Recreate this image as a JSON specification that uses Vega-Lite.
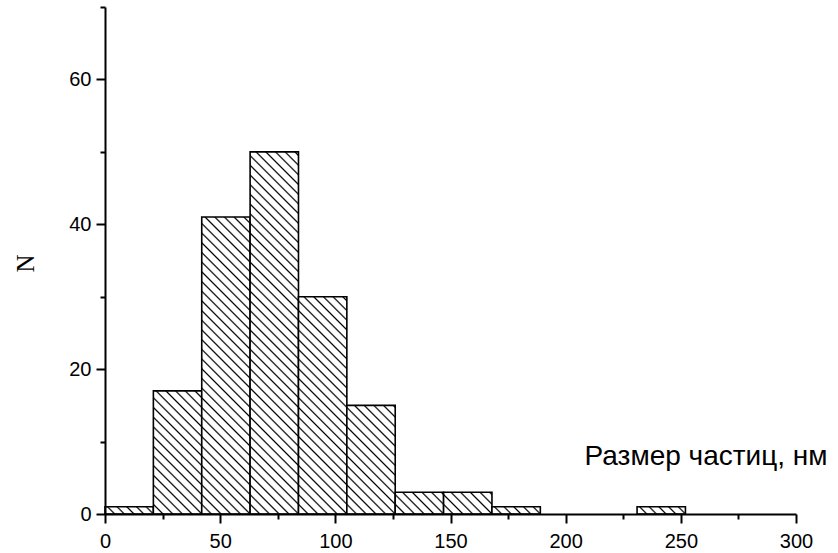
{
  "$schema": "https://vega.github.io/schema/vega-lite/v6.json",
  "width": 691,
  "height": 507,
  "autosize": {"type": "none"},
  "padding": {"left": 105, "top": 7, "right": 42, "bottom": 39},
  "background": "white",
  "config": {"view": {"stroke": null}, "font": "Liberation Sans"},
  "params": [
    {"name": "hatch", "value": [
      {"offset":0.0165,"color":"#fff"},{"offset":0.02,"color":"#000"},{"offset":0.0235,"color":"#fff"},
      {"offset":0.0365,"color":"#fff"},{"offset":0.04,"color":"#000"},{"offset":0.0435,"color":"#fff"},
      {"offset":0.0565,"color":"#fff"},{"offset":0.06,"color":"#000"},{"offset":0.0635,"color":"#fff"},
      {"offset":0.0765,"color":"#fff"},{"offset":0.08,"color":"#000"},{"offset":0.0835,"color":"#fff"},
      {"offset":0.0965,"color":"#fff"},{"offset":0.1,"color":"#000"},{"offset":0.1035,"color":"#fff"},
      {"offset":0.1165,"color":"#fff"},{"offset":0.12,"color":"#000"},{"offset":0.1235,"color":"#fff"},
      {"offset":0.1365,"color":"#fff"},{"offset":0.14,"color":"#000"},{"offset":0.1435,"color":"#fff"},
      {"offset":0.1565,"color":"#fff"},{"offset":0.16,"color":"#000"},{"offset":0.1635,"color":"#fff"},
      {"offset":0.1765,"color":"#fff"},{"offset":0.18,"color":"#000"},{"offset":0.1835,"color":"#fff"},
      {"offset":0.1965,"color":"#fff"},{"offset":0.2,"color":"#000"},{"offset":0.2035,"color":"#fff"},
      {"offset":0.2165,"color":"#fff"},{"offset":0.22,"color":"#000"},{"offset":0.2235,"color":"#fff"},
      {"offset":0.2365,"color":"#fff"},{"offset":0.24,"color":"#000"},{"offset":0.2435,"color":"#fff"},
      {"offset":0.2565,"color":"#fff"},{"offset":0.26,"color":"#000"},{"offset":0.2635,"color":"#fff"},
      {"offset":0.2765,"color":"#fff"},{"offset":0.28,"color":"#000"},{"offset":0.2835,"color":"#fff"},
      {"offset":0.2965,"color":"#fff"},{"offset":0.3,"color":"#000"},{"offset":0.3035,"color":"#fff"},
      {"offset":0.3165,"color":"#fff"},{"offset":0.32,"color":"#000"},{"offset":0.3235,"color":"#fff"},
      {"offset":0.3365,"color":"#fff"},{"offset":0.34,"color":"#000"},{"offset":0.3435,"color":"#fff"},
      {"offset":0.3565,"color":"#fff"},{"offset":0.36,"color":"#000"},{"offset":0.3635,"color":"#fff"},
      {"offset":0.3765,"color":"#fff"},{"offset":0.38,"color":"#000"},{"offset":0.3835,"color":"#fff"},
      {"offset":0.3965,"color":"#fff"},{"offset":0.4,"color":"#000"},{"offset":0.4035,"color":"#fff"},
      {"offset":0.4165,"color":"#fff"},{"offset":0.42,"color":"#000"},{"offset":0.4235,"color":"#fff"},
      {"offset":0.4365,"color":"#fff"},{"offset":0.44,"color":"#000"},{"offset":0.4435,"color":"#fff"},
      {"offset":0.4565,"color":"#fff"},{"offset":0.46,"color":"#000"},{"offset":0.4635,"color":"#fff"},
      {"offset":0.4765,"color":"#fff"},{"offset":0.48,"color":"#000"},{"offset":0.4835,"color":"#fff"},
      {"offset":0.4965,"color":"#fff"},{"offset":0.5,"color":"#000"},{"offset":0.5035,"color":"#fff"},
      {"offset":0.5165,"color":"#fff"},{"offset":0.52,"color":"#000"},{"offset":0.5235,"color":"#fff"},
      {"offset":0.5365,"color":"#fff"},{"offset":0.54,"color":"#000"},{"offset":0.5435,"color":"#fff"},
      {"offset":0.5565,"color":"#fff"},{"offset":0.56,"color":"#000"},{"offset":0.5635,"color":"#fff"},
      {"offset":0.5765,"color":"#fff"},{"offset":0.58,"color":"#000"},{"offset":0.5835,"color":"#fff"},
      {"offset":0.5965,"color":"#fff"},{"offset":0.6,"color":"#000"},{"offset":0.6035,"color":"#fff"},
      {"offset":0.6165,"color":"#fff"},{"offset":0.62,"color":"#000"},{"offset":0.6235,"color":"#fff"},
      {"offset":0.6365,"color":"#fff"},{"offset":0.64,"color":"#000"},{"offset":0.6435,"color":"#fff"},
      {"offset":0.6565,"color":"#fff"},{"offset":0.66,"color":"#000"},{"offset":0.6635,"color":"#fff"},
      {"offset":0.6765,"color":"#fff"},{"offset":0.68,"color":"#000"},{"offset":0.6835,"color":"#fff"},
      {"offset":0.6965,"color":"#fff"},{"offset":0.7,"color":"#000"},{"offset":0.7035,"color":"#fff"},
      {"offset":0.7165,"color":"#fff"},{"offset":0.72,"color":"#000"},{"offset":0.7235,"color":"#fff"},
      {"offset":0.7365,"color":"#fff"},{"offset":0.74,"color":"#000"},{"offset":0.7435,"color":"#fff"},
      {"offset":0.7565,"color":"#fff"},{"offset":0.76,"color":"#000"},{"offset":0.7635,"color":"#fff"},
      {"offset":0.7765,"color":"#fff"},{"offset":0.78,"color":"#000"},{"offset":0.7835,"color":"#fff"},
      {"offset":0.7965,"color":"#fff"},{"offset":0.8,"color":"#000"},{"offset":0.8035,"color":"#fff"},
      {"offset":0.8165,"color":"#fff"},{"offset":0.82,"color":"#000"},{"offset":0.8235,"color":"#fff"},
      {"offset":0.8365,"color":"#fff"},{"offset":0.84,"color":"#000"},{"offset":0.8435,"color":"#fff"},
      {"offset":0.8565,"color":"#fff"},{"offset":0.86,"color":"#000"},{"offset":0.8635,"color":"#fff"},
      {"offset":0.8765,"color":"#fff"},{"offset":0.88,"color":"#000"},{"offset":0.8835,"color":"#fff"},
      {"offset":0.8965,"color":"#fff"},{"offset":0.9,"color":"#000"},{"offset":0.9035,"color":"#fff"}
    ]}
  ],
  "data": {"values": [
    {"start": 0, "end": 21, "N": 1},
    {"start": 21, "end": 42, "N": 17},
    {"start": 42, "end": 63, "N": 41},
    {"start": 63, "end": 84, "N": 50},
    {"start": 84, "end": 105, "N": 30},
    {"start": 105, "end": 126, "N": 15},
    {"start": 126, "end": 147, "N": 3},
    {"start": 147, "end": 168, "N": 3},
    {"start": 168, "end": 189, "N": 1},
    {"start": 231, "end": 252, "N": 1}
  ]},
  "layer": [
    {
      "mark": {
        "type": "bar",
        "stroke": "black",
        "strokeWidth": 1.6,
        "fill": {"expr": "{gradient: 'linear', x1: 0, y1: 1, x2: 484.37*48.37/(2339.7+pow(7.2429*datum.N,2)), y2: 1-484.37*7.2429*datum.N/(2339.7+pow(7.2429*datum.N,2)), stops: hatch}"}
      },
      "encoding": {
        "x": {
          "field": "start", "type": "quantitative",
          "scale": {"domain": [0, 300], "nice": false},
          "axis": {
            "orient": "bottom", "values": [0, 50, 100, 150, 200, 250, 300],
            "grid": false, "tickSize": 9, "tickWidth": 2, "tickColor": "black",
            "domainColor": "black", "domainWidth": 2,
            "labelFontSize": 20, "labelColor": "black", "labelPadding": 8,
            "labelFlush": false, "labelOverlap": false,
            "title": "Размер частиц, нм", "titleFontSize": 28, "titleFontWeight": "normal",
            "titleColor": "black", "titleX": 722, "titleY": -50, "titleAlign": "right",
            "titleBaseline": "alphabetic", "zindex": 1
          }
        },
        "x2": {"field": "end"},
        "y": {
          "field": "N", "type": "quantitative",
          "scale": {"domain": [0, 70], "nice": false},
          "axis": {
            "orient": "left", "values": [0, 20, 40, 60],
            "grid": false, "tickSize": 9, "tickWidth": 2, "tickColor": "black",
            "domainColor": "black", "domainWidth": 2,
            "labelFontSize": 20, "labelColor": "black", "labelPadding": 5,
            "labelFlush": false, "labelOverlap": false,
            "title": "N", "titleFont": "Liberation Serif", "titleFontSize": 25,
            "titleFontWeight": "normal", "titleColor": "black",
            "titleX": -72, "titleY": 256, "titleAngle": -90, "titleAlign": "center",
            "titleBaseline": "alphabetic", "zindex": 1
          }
        },
        "y2": {"datum": 0}
      }
    },
    {
      "mark": {"type": "bar", "opacity": 0},
      "encoding": {
        "x": {
          "field": "start", "type": "quantitative",
          "axis": {
            "orient": "bottom", "values": [25, 75, 125, 175, 225, 275],
            "grid": false, "tickSize": 5, "tickWidth": 2, "tickColor": "black",
            "domain": false, "labels": false, "title": null, "zindex": 1
          }
        },
        "x2": {"field": "end"},
        "y": {
          "field": "N", "type": "quantitative",
          "axis": {
            "orient": "left", "values": [10, 30, 50, 70],
            "grid": false, "tickSize": 5, "tickWidth": 2, "tickColor": "black",
            "domain": false, "labels": false, "title": null, "zindex": 1
          }
        },
        "y2": {"datum": 0}
      }
    }
  ],
  "resolve": {"axis": {"x": "independent", "y": "independent"}}
}
